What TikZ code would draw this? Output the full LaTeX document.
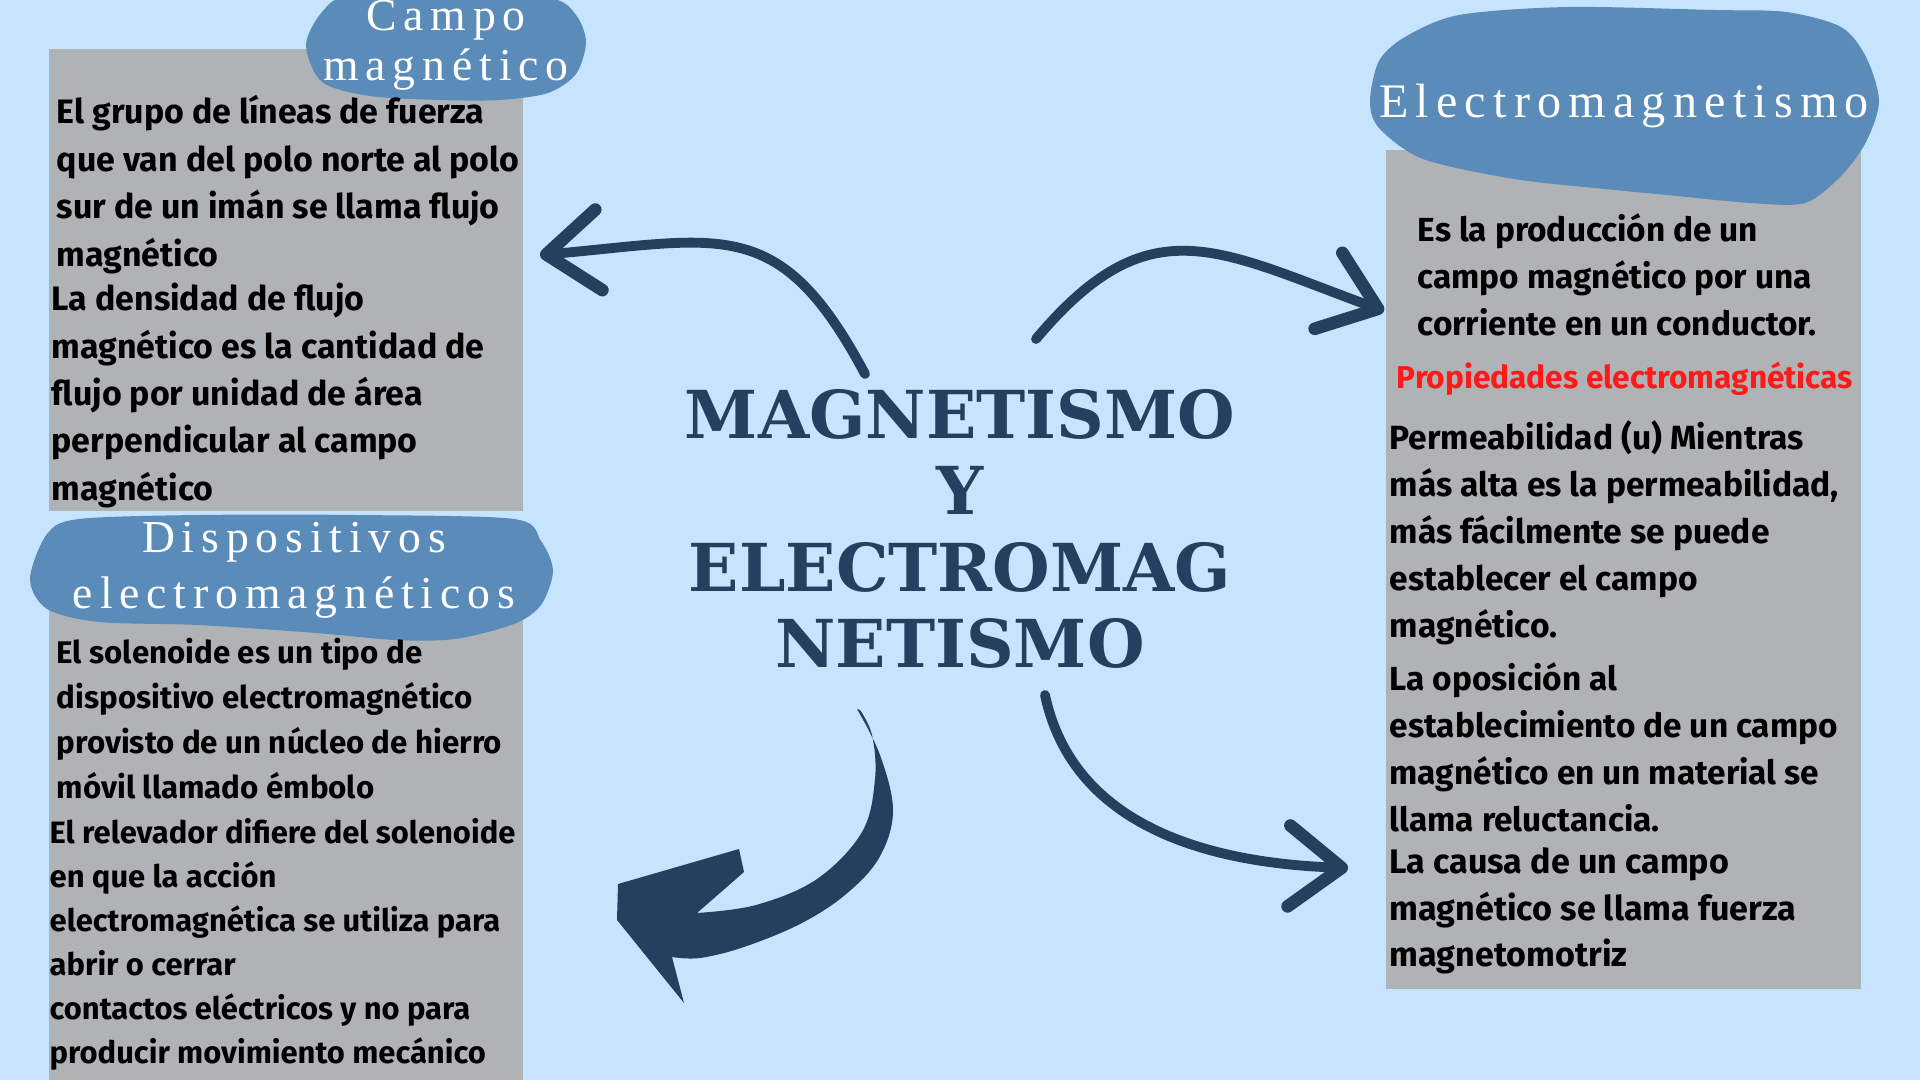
\documentclass[tikz,border=0pt]{standalone}
\usepackage{fontspec}
\usepackage{tikz}
\usetikzlibrary{arrows.meta,positioning,calc}
\setmainfont{Fira Sans}
\newfontfamily\titlefont{DejaVu Serif}
\newfontfamily\headfont{Liberation Serif}[LetterSpace=15]
\definecolor{fondo}{RGB}{198,228,253}
\definecolor{gris}{RGB}{176,179,182}
\definecolor{nube}{RGB}{91,139,185}
\definecolor{marino}{RGB}{35,64,94}
\definecolor{rojo}{RGB}{255,25,25}
\newcommand{\tope}{\rule{0pt}{1em}}

\begin{document}
\begin{tikzpicture}[>={Straight Barb[length=15pt,width=23pt,line width=3.6pt,round]},
  brush/.style={->,draw=marino,line width=2.8pt,line cap=round},
  texto/.style 2 args={anchor=north west,inner sep=0pt,align=left,
    font=\bfseries\fontsize{#1}{#2}\selectfont},
  cabeza/.style={text=white,inner sep=0pt,align=center,
    font=\headfont\fontsize{13}{#1}\selectfont},
  cabeza/.default=14.2]
\useasboundingbox (0,0) rectangle (19.2,-10.8);
\fill[fondo] (0,0) rectangle (19.2,-10.8);

% cajas grises
\fill[gris] (0.49,-0.49) rectangle (5.23,-5.11);
\fill[gris] (0.49,-5.60) rectangle (5.23,-10.8);
\fill[gris] (13.86,-1.50) rectangle (18.61,-9.89);

% nubes de los titulos
\fill[nube] plot[smooth cycle] coordinates {(3.06,-0.45) (3.22,-0.82) (3.70,-0.96)
  (4.40,-1.00) (5.00,-1.00) (5.48,-0.93) (5.76,-0.74) (5.86,-0.42) (5.76,-0.15)
  (5.50,0.02) (4.50,0.08) (3.50,0.05) (3.22,-0.12)};
\fill[nube] plot[smooth cycle] coordinates {(0.30,-5.79) (0.47,-5.34) (0.79,-5.19)
  (1.98,-5.15) (3.56,-5.15) (5.14,-5.19) (5.41,-5.41) (5.53,-5.71) (5.41,-6.05)
  (5.14,-6.24) (4.55,-6.39) (3.95,-6.40) (3.16,-6.33) (1.98,-6.25) (0.99,-6.22)
  (0.47,-6.09)};
\fill[nube] plot[smooth cycle] coordinates {(13.70,-1.01) (13.79,-0.61) (14.05,-0.37)
  (14.59,-0.15) (15.68,-0.07) (17.14,-0.10) (17.86,-0.12) (18.41,-0.27) (18.66,-0.57)
  (18.79,-1.01) (18.66,-1.42) (18.41,-1.76) (18.05,-2.03) (17.50,-2.03) (16.77,-1.96)
  (16.05,-1.89) (15.14,-1.79) (14.23,-1.59) (13.79,-1.28)};

\node[cabeza] (hcampo) at (4.46,-0.455) {Campo\\magnético};
\node[cabeza=15.9] (hdisp) at (2.94,-5.705) {Dispositivos\\electromagnéticos};
\node[cabeza, anchor=base, font=\headfont\fontsize{13.7}{15}\selectfont] (helec)
  at (16.24,-1.18) {Electromagnetismo};

% titulo central
\node[font=\titlefont\bfseries\fontsize{18.8}{21.7}\selectfont, text=marino,
  align=center, inner sep=0pt] (titulo) at (9.60,-5.29)
  {MAGNETISMO\\Y\\ELECTROMAG\\NETISMO};

% textos
\node[texto={9.65}{13.5}] (cm1) at (0.56,-0.891) {\tope El grupo de líneas de fuerza\\que van del polo norte al polo\\sur de un imán se llama flujo\\magnético};
\node[texto={9.65}{13.5}] (cm2) at (0.51,-2.76) {\tope La densidad de flujo\\magnético es la cantidad de\\flujo por unidad de área\\perpendicular al campo\\magnético};
\node[texto={8.9}{12.8}] (dev1) at (0.56,-6.32) {\tope El solenoide es un tipo de\\dispositivo electromagnético\\provisto de un núcleo de hierro\\móvil llamado émbolo};
\node[texto={8.8}{12.5}] (dev2) at (0.49,-8.12) {\tope El relevador difiere del solenoide\\en que la acción\\electromagnética se utiliza para\\abrir o cerrar\\contactos eléctricos y no para\\producir movimiento mecánico};
\node[texto={9.5}{13.4}] (em1) at (14.17,-2.07) {\tope Es la producción de un\\campo magnético por una\\corriente en un conductor.};
\node[texto={9.0}{13.4}, text=rojo] (prop) at (13.96,-3.56) {\tope Propiedades electromagnéticas};
\node[texto={9.55}{13.4}] (em2) at (13.89,-4.15) {\tope Permeabilidad (u) Mientras\\más alta es la permeabilidad,\\más fácilmente se puede\\establecer el campo\\magnético.};
\node[texto={9.5}{13.4}] (em3) at (13.89,-6.56) {\tope La oposición al\\establecimiento de un campo\\magnético en un material se\\llama reluctancia.};
\node[texto={9.7}{13.2}] (em4) at (13.89,-8.39) {\tope La causa de un campo\\magnético se llama fuerza\\magnetomotriz};

% flechas
\coordinate (ulA) at (8.65,-3.74);
\coordinate (ulB) at (5.40,-2.55);
\coordinate (urA) at (10.36,-3.39);
\coordinate (urB) at (13.84,-3.11);
\coordinate (lrA) at (10.45,-6.95);
\coordinate (lrB) at (13.48,-8.68);
\draw[brush] (ulA) to[out=118, in=5, looseness=1.35] (ulB);
\draw[brush] (urA) to[out=50, in=160, looseness=1.3] (urB);
\draw[brush] (lrA) to[out=-78, in=178, looseness=1] (lrB);

% flecha gruesa abajo
\fill[marino] plot[smooth,tension=0.6] coordinates {(8.57,-7.09) (8.80,-7.55)
  (8.93,-8.11) (8.79,-8.58) (8.45,-8.95) (8.00,-9.24) (7.44,-9.47) (7.00,-9.58)
  (6.72,-9.57)}
  -- (6.84,-10.03) -- (6.17,-9.20) -- (6.18,-8.84) -- (7.39,-8.49) -- (7.44,-8.72)
  -- plot[smooth,tension=0.6] coordinates {(6.97,-9.13) (7.56,-9.05) (8.17,-8.79)
  (8.62,-8.32) (8.75,-7.79) (8.72,-7.35) (8.60,-7.10)} -- cycle;
\end{tikzpicture}
\end{document}
